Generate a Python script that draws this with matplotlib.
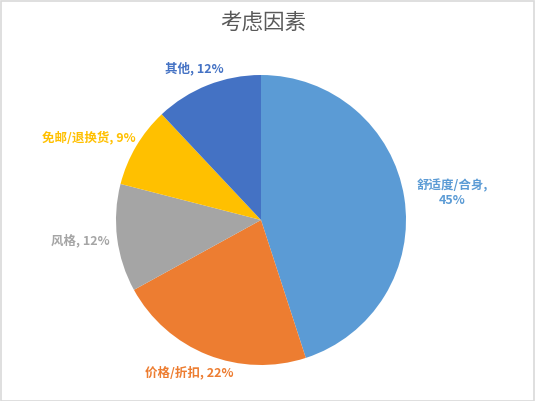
import matplotlib
matplotlib.use("Agg")
import matplotlib.pyplot as plt
from matplotlib.patches import Rectangle
import numpy as np

plt.rcParams['font.family'] = ['Noto Sans CJK SC', 'DejaVu Sans']

title = "考虑因素"
categories = ["舒适度/合身", "价格/折扣", "风格", "免邮/退换货", "其他"]
values = [45, 22, 12, 9, 12]
colors = ["#5B9BD5", "#ED7D31", "#A5A5A5", "#FFC000", "#4472C4"]

W, H = 535, 401
fig = plt.figure(figsize=(W / 100, H / 100), dpi=100)
ax = fig.add_axes([0, 0, 1, 1])
cx, cy, R = 261, 181, 145

wedges, _ = ax.pie(values, colors=colors, startangle=90, counterclock=False,
                   radius=1.0, center=(0, 0), frame=True,
                   wedgeprops=dict(linewidth=0))
ax.set_xlim(-cx / R, (W - cx) / R)
ax.set_ylim(-cy / R, (H - cy) / R)
ax.set_aspect('auto')
ax.axis('off')

# label placement (distance, angle offset in degrees)
label_dist = [1.33, 1.16, 1.255, 1.32, 1.145]
label_dang = [-1.0, -3.7, -0.6, 5.0, 2.2]
for w, cat, v, col, d, da in zip(wedges, categories, values, colors, label_dist, label_dang):
    mid = np.deg2rad((w.theta1 + w.theta2) / 2 + da)
    x, y = d * np.cos(mid), d * np.sin(mid)
    if cat == "舒适度/合身":
        txt = f"{cat},\n{v}%"
    else:
        txt = f"{cat}, {v}%"
    ax.text(x, y, txt, ha='center', va='center', color=col, fontsize=9,
            fontweight='bold', linespacing=1.15)

fig.text(263 / W, 1 - 23 / H, title, ha='center', va='center',
         fontsize=15.5, color='#595959', fontweight='medium')

fig.patches.append(Rectangle((0.001, 0.001), 0.997, 0.996, transform=fig.transFigure,
                             fill=False, edgecolor='#D9D9D9', linewidth=1.2))

fig.savefig("out.png", dpi=100, facecolor='white')
